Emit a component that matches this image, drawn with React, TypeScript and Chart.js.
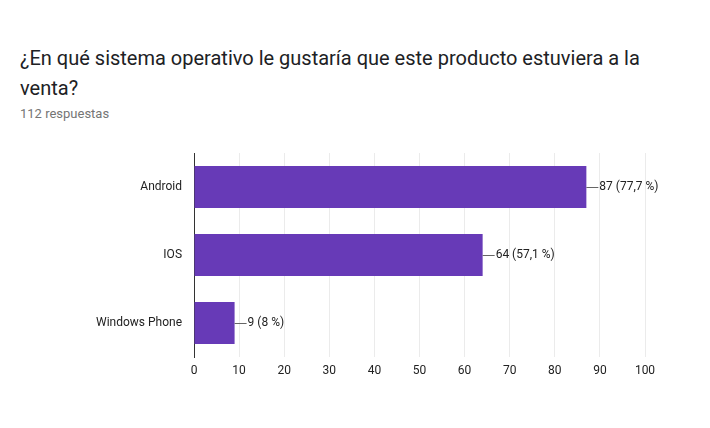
import React, { useEffect, useRef } from 'react';
import { Chart, registerables } from 'chart.js';

Chart.register(...registerables);

const categories = ['Android', 'IOS', 'Windows Phone'];
const counts = [87, 64, 9];
const percents = ['77,7', '57,1', '8'];
const xTicks = [0, 10, 20, 30, 40, 50, 60, 70, 80, 90, 100];

const labelPlugin = {
  id: 'barLabels',
  afterDatasetsDraw(chart: any) {
    const ctx = chart.ctx;
    const meta = chart.getDatasetMeta(0);
    ctx.save();
    ctx.font = '12px Roboto';
    ctx.fillStyle = '#222';
    ctx.strokeStyle = '#666';
    ctx.lineWidth = 1;
    ctx.textBaseline = 'middle';
    meta.data.forEach((bar: any, i: number) => {
      const x = bar.x;
      const y = Math.round(bar.y) + 0.5;
      ctx.beginPath();
      ctx.moveTo(x, y);
      ctx.lineTo(x + 12, y);
      ctx.stroke();
      ctx.fillText(`${counts[i]} (${percents[i]} %)`, x + 13, bar.y);
    });
    ctx.restore();
  },
};

const App: React.FC = () => {
  const canvasRef = useRef<HTMLCanvasElement>(null);
  const chartRef = useRef<Chart | null>(null);

  useEffect(() => {
    if (!canvasRef.current) return;
    chartRef.current = new Chart(canvasRef.current, {
      type: 'bar',
      data: {
        labels: categories,
        datasets: [
          {
            data: counts,
            backgroundColor: '#673ab7',
            categoryPercentage: 0.62,
            barPercentage: 1,
          },
        ],
      },
      options: {
        indexAxis: 'y',
        responsive: false,
        animation: false,
        layout: { padding: { top: 153, right: 65, left: 0, bottom: 0 } },
        plugins: { legend: { display: false }, tooltip: { enabled: false } },
        scales: {
          x: {
            min: 0,
            max: 100,
            afterBuildTicks: (s: any) => {
              s.ticks = xTicks.map((v) => ({ value: v }));
            },
            afterFit: (s: any) => {
              s.height = 71;
            },
            grid: { color: '#ebebeb', drawTicks: false },
            border: { display: false },
            ticks: { color: '#222', font: { family: 'Roboto', size: 12 }, padding: 7 },
          },
          y: {
            afterFit: (s: any) => {
              s.width = 194;
            },
            grid: { display: false, drawTicks: false },
            border: { color: '#333', width: 1 },
            ticks: { color: '#222', font: { family: 'Roboto', size: 12 }, padding: 12 },
          },
        },
      },
      plugins: [labelPlugin],
    });
    return () => {
      chartRef.current?.destroy();
      chartRef.current = null;
    };
  }, []);

  return (
    <div style={{ position: 'fixed', left: 0, top: 0, width: 710, height: 428, background: '#fff', fontFamily: 'Roboto' }}>
      <div style={{ position: 'absolute', left: 20, top: 43, width: 660, fontSize: 20, lineHeight: '30px', color: '#202124' }}>
        ¿En qué sistema operativo le gustaría que este producto estuviera a la venta?
      </div>
      <div style={{ position: 'absolute', left: 20, top: 106, fontSize: 13, color: '#757575' }}>112 respuestas</div>
      <canvas ref={canvasRef} width={710} height={428} style={{ position: 'absolute', left: 0, top: 0 }} />
    </div>
  );
};

export default App;
